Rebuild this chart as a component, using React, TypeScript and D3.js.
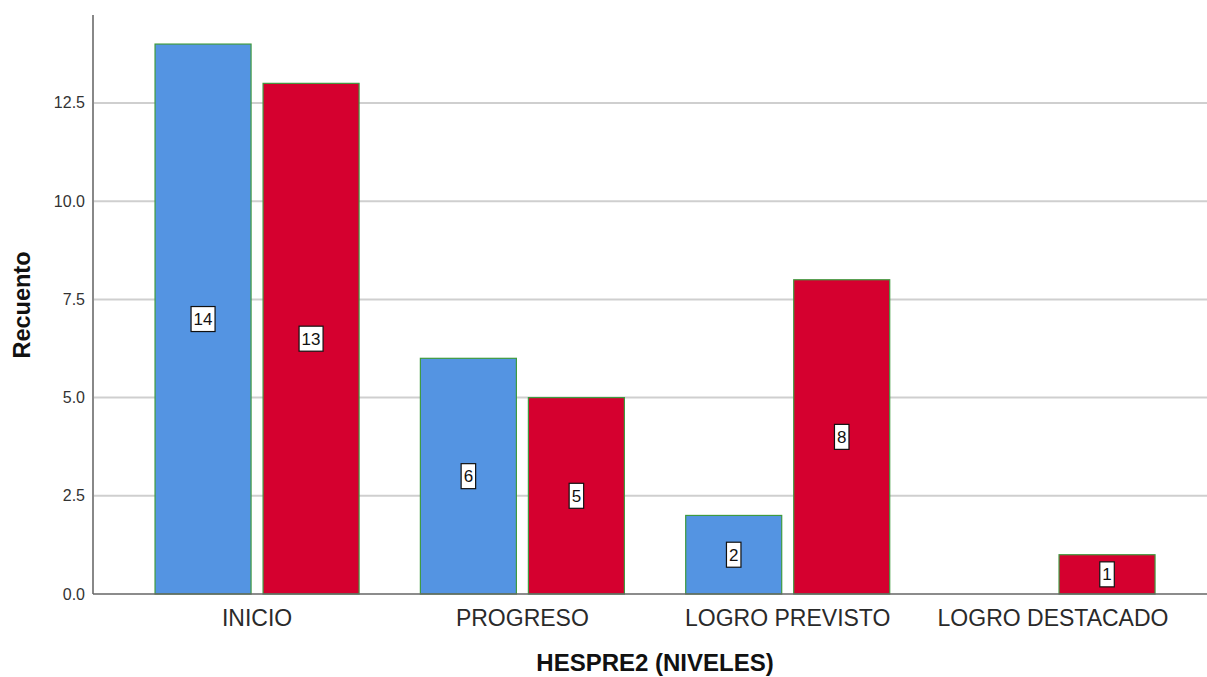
import React from "react";
import * as d3 from "d3";

const categories = ["INICIO", "PROGRESO", "LOGRO PREVISTO", "LOGRO DESTACADO"];
const seriesNames = ["Grupo 1", "Grupo 2"];
const series1 = [14, 6, 2, 0];
const series2 = [13, 5, 8, 1];
const yTicks = [0, 2.5, 5, 7.5, 10, 12.5];
const colors = ["#5494E2", "#D5002F"];

const W = 1207;
const H = 677;
const axisX = 93;
const baseY = 594;

export default function App() {
  const y = d3.scaleLinear().domain([0, 14.74]).range([baseY, 15]);
  const x = d3
    .scaleBand<string>()
    .domain(categories)
    .range([124.4, 1185.7])
    .paddingInner(0.231)
    .paddingOuter(0.1155);
  const xs = d3
    .scaleBand<string>()
    .domain(seriesNames)
    .range([0, x.bandwidth()])
    .paddingInner(0.111)
    .paddingOuter(0);

  const data = [series1, series2];
  const font = "'Liberation Sans', Arial, Helvetica, sans-serif";

  return (
    <svg
      width={W}
      height={H}
      style={{ position: "absolute", left: 0, top: 0, background: "#fff" }}
      fontFamily={font}
    >
      {/* gridlines */}
      {yTicks
        .filter((t) => t > 0)
        .map((t) => (
          <line
            key={"g" + t}
            x1={axisX}
            x2={W}
            y1={y(t)}
            y2={y(t)}
            stroke="#cfcfcf"
            strokeWidth={2}
          />
        ))}
      {/* bars */}
      {categories.map((c, ci) =>
        data.map((s, si) => {
          const v = s[ci];
          if (!v) return null;
          const bx = (x(c) as number) + (xs(seriesNames[si]) as number);
          return (
            <rect
              key={c + si}
              x={bx}
              y={y(v)}
              width={xs.bandwidth()}
              height={y(0) - y(v)}
              fill={colors[si]}
              stroke="#3f9a3f"
              strokeWidth={1.2}
            />
          );
        })
      )}
      {/* value labels */}
      {categories.map((c, ci) =>
        data.map((s, si) => {
          const v = s[ci];
          if (!v) return null;
          const cx = (x(c) as number) + (xs(seriesNames[si]) as number) + xs.bandwidth() / 2;
          const cy = y(v / 2);
          const txt = String(v);
          const bw = txt.length * 9.5 + 5;
          const bh = 25;
          return (
            <g key={"l" + c + si}>
              <rect
                x={cx - bw / 2}
                y={cy - bh / 2}
                width={bw}
                height={bh}
                fill="#fff"
                stroke="#111"
                strokeWidth={1.2}
              />
              <text
                x={cx}
                y={cy + 6}
                textAnchor="middle"
                fontSize={17}
                fill="#111"
              >
                {txt}
              </text>
            </g>
          );
        })
      )}
      {/* axes */}
      <line x1={axisX} x2={axisX} y1={15} y2={baseY} stroke="#888" strokeWidth={2} />
      <line x1={axisX} x2={W} y1={baseY} y2={baseY} stroke="#666" strokeWidth={1.5} />
      {/* y tick labels */}
      {yTicks.map((t) => (
        <text
          key={"t" + t}
          x={85}
          y={y(t) + 5.5}
          textAnchor="end"
          fontSize={16}
          fill="#333"
        >
          {d3.format(".1f")(t)}
        </text>
      ))}
      {/* category labels */}
      {categories.map((c) => (
        <text
          key={"c" + c}
          x={(x(c) as number) + x.bandwidth() / 2}
          y={626}
          textAnchor="middle"
          fontSize={23}
          fill="#2a2a2a"
        >
          {c}
        </text>
      ))}
      {/* axis titles */}
      <text x={655} y={671} textAnchor="middle" fontSize={24} fontWeight="bold" fill="#111">
        HESPRE2 (NIVELES)
      </text>
      <text
        transform={`translate(30, 305) rotate(-90)`}
        textAnchor="middle"
        fontSize={23.5}
        fontWeight="bold"
        fill="#111"
      >
        Recuento
      </text>
    </svg>
  );
}
